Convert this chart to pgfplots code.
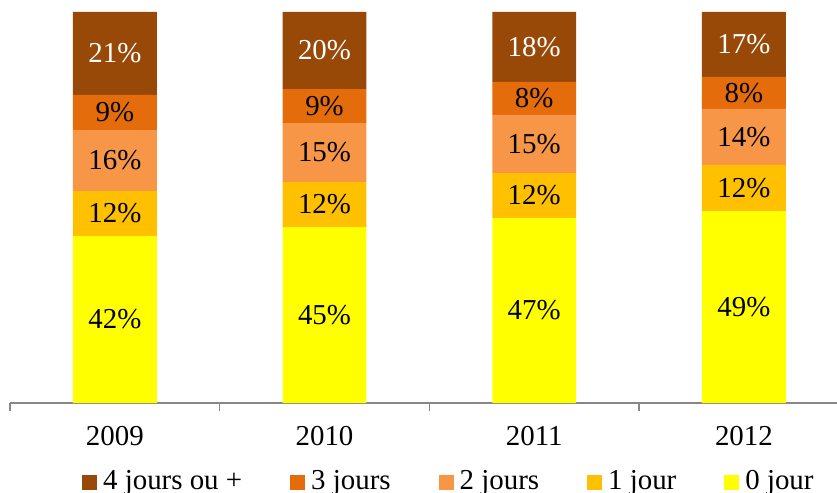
\documentclass[border=0pt]{standalone}
\usepackage{pgfplots}
\pgfplotsset{compat=1.18}
\usepackage{fontspec}
\setmainfont{Liberation Serif}
\definecolor{jour4}{HTML}{984807}
\definecolor{jour3}{HTML}{E46C0A}
\definecolor{jour2}{HTML}{F79646}
\definecolor{jour1}{HTML}{FFC000}
\definecolor{jour0}{HTML}{FFFF00}
\definecolor{axisgray}{HTML}{878787}
\newcommand\chartfont{\fontsize{29}{34}\selectfont}

\pgfplotsset{
  base/.style={
    scale only axis, width=827bp, height=391bp,
    xmin=-0.5, xmax=3.444, ymin=0, ymax=100,
  },
}

\begin{document}
\begin{tikzpicture}
\begin{axis}[
    base,
    ybar stacked,
    bar width=0.4,
    axis y line=none,
    axis x line*=bottom,
    axis line style={axisgray, line width=1.5bp},
    xtick={0,1,2,3},
    xticklabels={2009,2010,2011,2012},
    major tick length=0pt,
    minor xtick={-0.5,0.5,1.5,2.5},
    minor tick length=8bp,
    tick align=outside,
    minor tick style={axisgray, line width=1.5bp},
    xticklabel style={font=\chartfont, yshift=-20bp},
    legend columns=-1,
    reverse legend,
    legend style={
        at={(0.087,-0.199)}, anchor=west,
        draw=none, fill=none, font=\chartfont,
        inner sep=0pt,
        nodes={inner sep=0pt},
        /tikz/every odd column/.append style={column sep=6bp},
        /tikz/every even column/.append style={column sep=48bp},
    },
    legend image code/.code={\fill[#1] (0bp,-9bp) rectangle (15bp,6bp);},
]
\addplot[fill=jour0, draw=none] coordinates {(0,42.7) (1,45.0) (2,47.3) (3,49.1)};
\addlegendentry{0 jour}
\addplot[fill=jour1, draw=none] coordinates {(0,11.5) (1,11.5) (2,11.5) (3,11.8)};
\addlegendentry{1 jour}
\addplot[fill=jour2, draw=none] coordinates {(0,15.6) (1,15.1) (2,14.9) (3,14.3)};
\addlegendentry{2 jours}
\addplot[fill=jour3, draw=none] coordinates {(0,9.0) (1,8.7) (2,8.4) (3,8.2)};
\addlegendentry{3 jours}
\addplot[fill=jour4, draw=none] coordinates {(0,21.2) (1,19.7) (2,17.9) (3,16.6)};
\addlegendentry{4 jours ou +}
\end{axis}

% labels centred in each segment
\begin{axis}[base, hide axis,
    every node near coord/.append style={font=\chartfont, anchor=center},
]
\addplot[draw=none, mark=none, nodes near coords, point meta=explicit symbolic,
    every node near coord/.append style={text=black}]
coordinates {
  (0,21.35) [42\%] (0,48.45) [12\%] (0,62.0) [16\%] (0,74.3) [9\%]
  (1,22.5) [45\%] (1,50.75) [12\%] (1,64.05) [15\%] (1,75.95) [9\%]
  (2,23.65) [47\%] (2,53.05) [12\%] (2,66.25) [15\%] (2,77.9) [8\%]
  (3,24.55) [49\%] (3,55.0) [12\%] (3,68.05) [14\%] (3,79.3) [8\%]
};
\addplot[draw=none, mark=none, nodes near coords, point meta=explicit symbolic,
    every node near coord/.append style={text=white}]
coordinates {(0,89.4) [21\%] (1,90.15) [20\%] (2,91.05) [18\%] (3,91.7) [17\%]};
\end{axis}

\pgfresetboundingbox
\useasboundingbox (-10bp,-90bp) rectangle (827bp,403bp);
\end{tikzpicture}
\end{document}
